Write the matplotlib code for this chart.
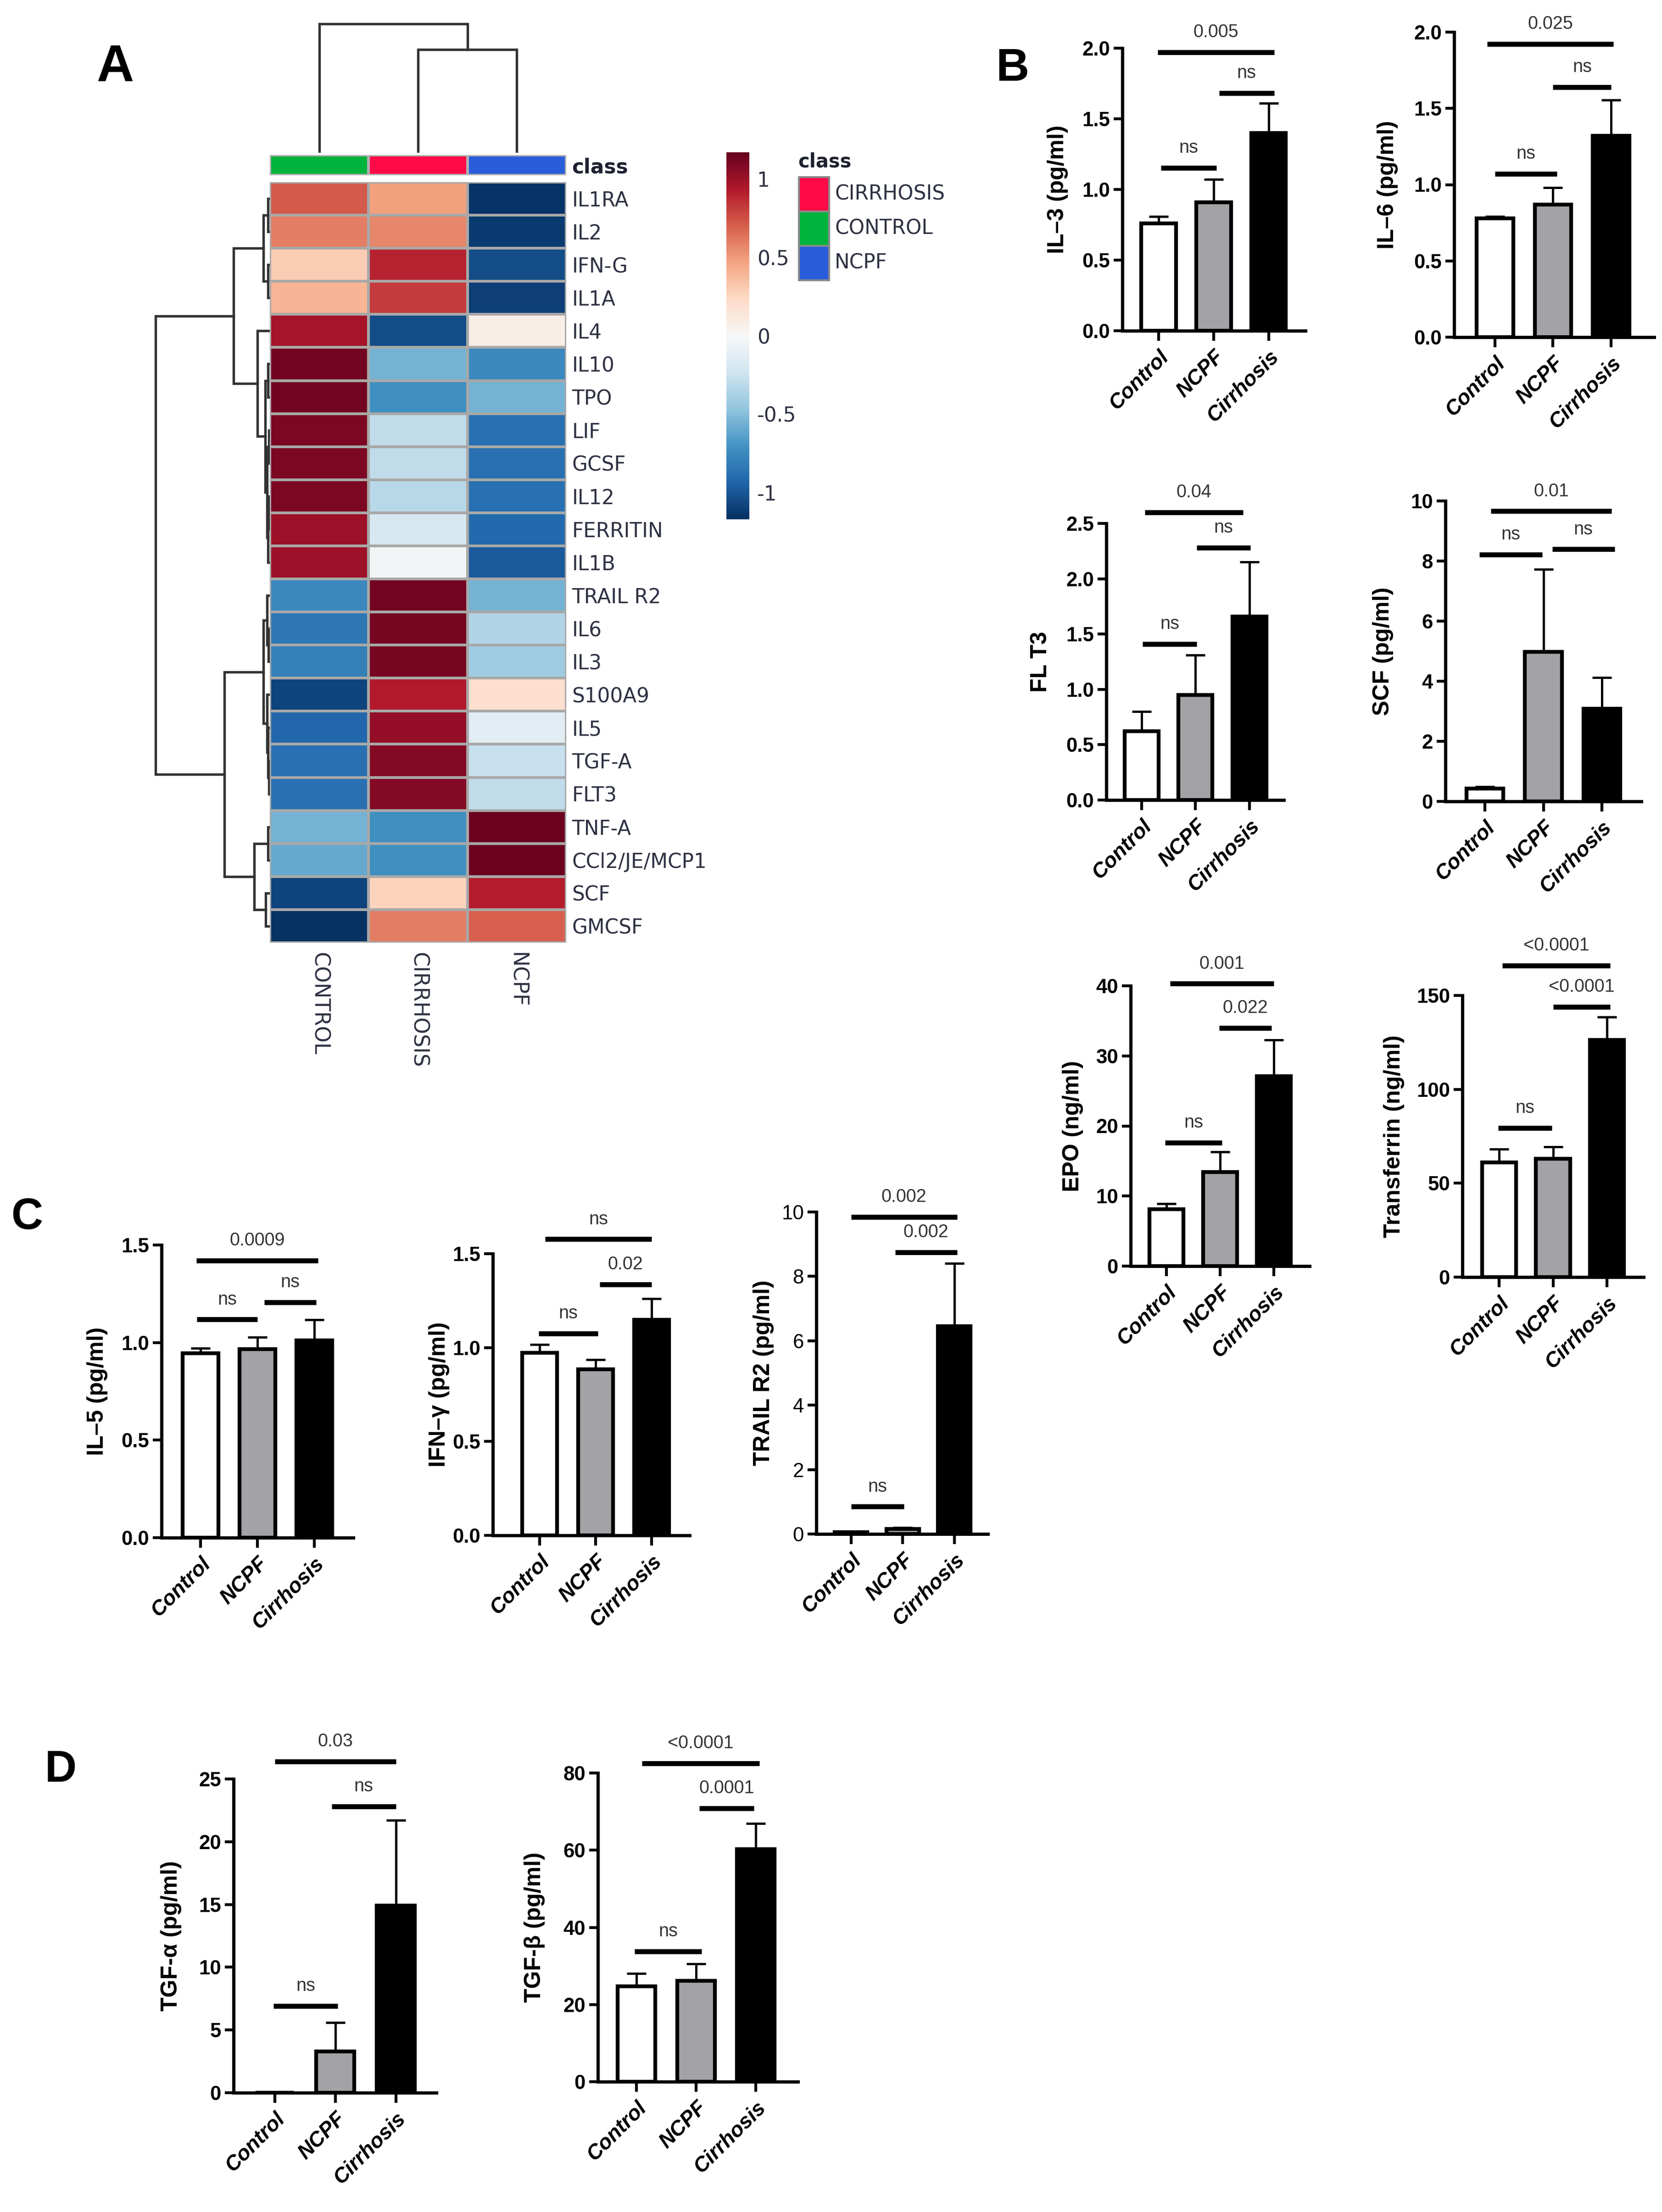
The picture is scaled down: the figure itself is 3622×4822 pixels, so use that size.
import matplotlib
matplotlib.use('Agg')
import matplotlib.pyplot as plt
import numpy as np
from matplotlib.colors import Normalize, ListedColormap
from matplotlib.colorbar import ColorbarBase
from matplotlib.patches import Rectangle
from matplotlib.ticker import FormatStrFormatter

plt.rcParams['font.family'] = ['Liberation Sans', 'DejaVu Sans']

# ---------------- heatmap data (panel A) ----------------
hm_rows = ['IL1RA', 'IL2', 'IFN-G', 'IL1A', 'IL4', 'IL10', 'TPO', 'LIF', 'GCSF', 'IL12',
           'FERRITIN', 'IL1B', 'TRAIL R2', 'IL6', 'IL3', 'S100A9', 'IL5', 'TGF-A', 'FLT3',
           'TNF-A', 'CCl2/JE/MCP1', 'SCF', 'GMCSF']
hm_cols = ['CONTROL', 'CIRRHOSIS', 'NCPF']
hm_control = [0.72, 0.60, 0.30, 0.40, 0.97, 1.13, 1.13, 1.10, 1.10, 1.10, 1.00, 1.00,
              -0.75, -0.85, -0.80, -1.08, -0.93, -0.88, -0.88, -0.55, -0.60, -1.08, -1.16]
hm_cirrhosis = [0.48, 0.57, 0.90, 0.82, -1.05, -0.55, -0.72, -0.30, -0.30, -0.32, -0.20, -0.03,
                1.13, 1.12, 1.12, 0.93, 1.03, 1.07, 1.07, -0.72, -0.72, 0.27, 0.60]
hm_ncpf = [-1.15, -1.12, -1.05, -1.10, 0.08, -0.75, -0.55, -0.88, -0.88, -0.88, -0.92, -0.98,
           -0.55, -0.35, -0.42, 0.20, -0.13, -0.27, -0.30, 1.15, 1.15, 0.92, 0.70]
class_colors = ['#00b33c', '#ff0a47', '#2a5ddb']   # CONTROL, CIRRHOSIS, NCPF
legend_labels = ['CIRRHOSIS', 'CONTROL', 'NCPF']
legend_colors = ['#ff0a47', '#00b33c', '#2a5ddb']

# dendrograms: (left, right, height) ; leaves are row / column indices
row_tree = ((((0, 1, 4), (2, 3, 4), 14),
             (4, ((5, 6, 4), ((7, 8, 2), ((9, 10, 2), 11, 4), 6), 10), 27), 79),
            (((12, (13, 14, 3), 6), (15, (16, (17, 18, 2), 4), 6), 14),
             ((19, 20, 4), (21, 22, 9), 34), 99), 249)
col_tree = (0, (1, 2, 225), 281)

# ---------------- bar chart data ----------------
groups = ['Control', 'NCPF', 'Cirrhosis']
bar_colors = ['white', '#a3a3a7', 'black']

il3_mean = [0.76, 0.91, 1.40]
il3_err = [0.05, 0.16, 0.21]
il6_mean = [0.78, 0.87, 1.32]
il6_err = [0.012, 0.11, 0.235]
flt3_mean = [0.62, 0.95, 1.66]
flt3_err = [0.18, 0.36, 0.49]
scf_mean = [0.42, 4.97, 3.09]
scf_err = [0.07, 2.76, 1.03]
epo_mean = [8.1, 13.4, 27.1]
epo_err = [0.8, 2.9, 5.2]
trf_mean = [61.1, 63.0, 126.3]
trf_err = [7.0, 6.4, 12.3]
il5_mean = [0.944, 0.967, 1.010]
il5_err = [0.028, 0.060, 0.106]
ifng_mean = [0.973, 0.884, 1.147]
ifng_err = [0.044, 0.051, 0.113]
trail_mean = [0.06, 0.15, 6.45]
trail_err = [0.0, 0.05, 1.96]
tgfa_mean = [0.0, 3.28, 14.9]
tgfa_err = [0.0, 2.32, 6.8]
tgfb_mean = [24.7, 26.2, 60.3]
tgfb_err = [3.3, 4.3, 6.6]

# significance bars: (x from, x to, height, label)
il3_sig = [(-0.02, 2.10, 1.97, '0.005'), (1.10, 2.10, 1.683, 'ns'), (0.04, 1.05, 1.154, 'ns')]
il6_sig = [(-0.13, 2.04, 1.923, '0.025'), (1.0, 2.0, 1.64, 'ns'), (0.0, 1.07, 1.07, 'ns')]
flt3_sig = [(0.06, 1.88, 2.60, '0.04'), (1.02, 2.02, 2.28, 'ns'), (0.02, 1.02, 1.41, 'ns')]
scf_sig = [(0.10, 2.17, 9.66, '0.01'), (-0.10, 0.98, 8.22, 'ns'), (1.15, 2.22, 8.39, 'ns')]
epo_sig = [(0.07, 2.0, 40.3, '0.001'), (0.98, 1.95, 34.0, '0.022'), (-0.02, 1.03, 17.6, 'ns')]
trf_sig = [(0.06, 2.06, 166.0, '<0.0001'), (1.0, 2.06, 144.0, '<0.0001'), (-0.02, 0.98, 79.4, 'ns')]
il5_sig = [(-0.07, 2.07, 1.421, '0.0009'), (-0.06, 1.0, 1.118, 'ns'), (1.12, 2.04, 1.207, 'ns')]
ifng_sig = [(0.10, 2.0, 1.577, 'ns'), (1.07, 2.0, 1.336, '0.02'), (-0.02, 1.04, 1.075, 'ns')]
trail_sig = [(0.0, 2.05, 9.85, '0.002'), (0.85, 2.05, 8.75, '0.002'), (0.0, 1.02, 0.85, 'ns')]
tgfa_sig = [(0.0, 2.0, 26.4, '0.03'), (0.94, 2.0, 22.8, 'ns'), (-0.02, 1.04, 6.9, 'ns')]
tgfb_sig = [(0.09, 2.06, 82.5, '<0.0001'), (1.05, 1.97, 70.9, '0.0001'), (-0.03, 1.09, 33.8, 'ns')]

# ---------------- figure ----------------
W, H = 3622, 4822
fig = plt.figure(figsize=(W / 300, H / 300), dpi=300)


def px_axes(l, t, r, b):
    return fig.add_axes([l / W, 1 - b / H, (r - l) / W, (b - t) / H])


ov = fig.add_axes([0, 0, 1, 1], zorder=-5)
ov.set_xlim(0, W)
ov.set_ylim(H, 0)
ov.axis('off')

# panel letters
for letter, (lx, ly), fs in [('A', (251, 148), 27), ('B', (2206, 150), 24),
                             ('C', (59, 2654), 23), ('D', (132, 3859), 23)]:
    ov.text(lx, ly, letter, fontsize=fs, fontweight='bold', ha='center', va='center')

hm_font = dict(family='DejaVu Sans', fontsize=10.5, color='#2d3142')

# heatmap
z = np.column_stack([hm_control, hm_cirrhosis, hm_ncpf])
vlim = 1.17
hm = px_axes(588, 397, 1234, 2055)
hm.pcolormesh(z, cmap='RdBu_r', vmin=-vlim, vmax=vlim, edgecolors='#a8a8a8', linewidth=1.0)
hm.set_xlim(0, 3)
hm.set_ylim(len(hm_rows), 0)
hm.yaxis.tick_right()
hm.set_yticks(np.arange(len(hm_rows)) + 0.5)
hm.set_yticklabels(hm_rows, **hm_font)
hm.set_xticks(np.arange(3) + 0.5)
hm.set_xticklabels(hm_cols, rotation=270, va='top', ha='center',
                   family='DejaVu Sans', fontsize=11, color='#2d3142')
hm.tick_params(length=0, pad=3)
hm.tick_params(axis='x', pad=5)
for s in hm.spines.values():
    s.set_visible(False)

# class annotation bar
cb = px_axes(588, 338, 1234, 382)
cb.pcolormesh(np.array([[0, 1, 2]]), cmap=ListedColormap(class_colors), vmin=0, vmax=2,
              edgecolors='#b0b0b0', linewidth=1.0)
cb.set_xlim(0, 3)
cb.set_ylim(0, 1)
cb.set_xticks([])
cb.yaxis.tick_right()
cb.set_yticks([0.5])
cb.set_yticklabels(['class'], family='DejaVu Sans', fontsize=10.5, fontweight='bold', color='#1e2230')
cb.tick_params(length=0, pad=3)
for s in cb.spines.values():
    s.set_visible(False)


def draw_tree(ax, node, orient):
    if isinstance(node, int):
        return node + 0.5, 0.0
    a, b, h = node
    pa, ha = draw_tree(ax, a, orient)
    pb, hb = draw_tree(ax, b, orient)
    if orient == 'top':
        ax.plot([pa, pa, pb, pb], [ha, h, h, hb], color='#333333', lw=1.3, solid_joinstyle='miter')
    else:
        ax.plot([-ha, -h, -h, -hb], [pa, pa, pb, pb], color='#333333', lw=1.3, solid_joinstyle='miter')
    return (pa + pb) / 2, h


td = px_axes(588, 30, 1234, 333)
draw_tree(td, col_tree, 'top')
td.set_xlim(0, 3)
td.set_ylim(0, 303)
td.axis('off')

ld = px_axes(300, 397, 588, 2055)
draw_tree(ld, row_tree, 'left')
ld.set_xlim(-288, 0)
ld.set_ylim(len(hm_rows), 0)
ld.axis('off')

# colorbar
cax = px_axes(1583, 332, 1633, 1132)
cbar = ColorbarBase(cax, cmap=plt.get_cmap('RdBu_r'), norm=Normalize(-vlim, vlim))
cbar.outline.set_visible(False)
cbar.set_ticks([-1, -0.5, 0, 0.5, 1])
cbar.set_ticklabels(['-1', '-0.5', '0', '0.5', '1'])
cax.tick_params(length=0, pad=4)
for t in cax.get_yticklabels():
    t.set_fontfamily('DejaVu Sans')
    t.set_fontsize(10.5)
    t.set_color('#2d3142')

# class legend
ov.text(1739, 352, 'class', family='DejaVu Sans', fontsize=10, fontweight='bold',
        color='#1e2230', ha='left', va='center')
for i, (lab, col) in enumerate(zip(legend_labels, legend_colors)):
    top = 386 + i * 75
    ov.add_patch(Rectangle((1741, top), 66, 75, facecolor=col, edgecolor='#8a8a8a', lw=1.0))
    ov.text(1819, top + 37, lab, ha='left', va='center', **hm_font)


# ---------------- bar charts ----------------
def bar_panel(box, means, errs, ymax, ystep, fmt, ylabel, label_off, xlim, sigs, bold=True):
    l, t, r, b = box
    ax = px_axes(l, t, r, b)
    x = np.arange(3)
    ax.bar(x, means, width=0.63, color=bar_colors, edgecolor='black', linewidth=2.0, zorder=3)
    for xi, m, e in zip(x, means, errs):
        if e > 0:
            ax.errorbar(xi, m, yerr=[[0], [e]], fmt='none', ecolor='black', elinewidth=1.2,
                        capsize=5, capthick=1.2, zorder=2)
    ax.set_xlim(*xlim)
    ax.set_ylim(0, ymax)
    ax.set_yticks(np.arange(0, ymax + ystep / 2, ystep))
    ax.yaxis.set_major_formatter(FormatStrFormatter(fmt))
    ax.set_xticks(x)
    ax.set_xticklabels(groups, rotation=45, ha='right', va='top', rotation_mode='anchor',
                       fontsize=11, fontweight='bold', fontstyle='italic')
    for s in ['top', 'right']:
        ax.spines[s].set_visible(False)
    for s in ['left', 'bottom']:
        ax.spines[s].set_linewidth(1.7)
    ax.tick_params(axis='x', direction='out', length=5.3, width=1.5, pad=3)
    ax.tick_params(axis='y', direction='out', length=4.5, width=1.5, pad=2, labelsize=10.5)
    for tl in ax.get_yticklabels():
        tl.set_fontweight('bold' if bold else 'normal')
    ax.set_ylabel(ylabel, fontsize=12, fontweight='bold')
    ax.yaxis.set_label_coords(-label_off / (r - l), 0.5)
    for x1, x2, yv, lab in sigs:
        ax.plot([x1, x2], [yv, yv], color='black', lw=2.6, clip_on=False, solid_capstyle='butt')
        ax.annotate(lab, xy=((x1 + x2) / 2, yv), xytext=(0, 10.5), textcoords='offset points',
                    ha='center', va='center', fontsize=9.5, color='#333333', annotation_clip=False)
    return ax


bar_panel((2446, 105, 2845, 721), il3_mean, il3_err, 2.0, 0.5, '%.1f', 'IL\u20133 (pg/ml)', 118,
          (-0.66, 2.67), il3_sig)
bar_panel((3169, 70, 3605, 735), il6_mean, il6_err, 2.0, 0.5, '%.1f', 'IL\u20136 (pg/ml)', 122,
          (-0.70, 2.74), il6_sig)
bar_panel((2411, 1141, 2798, 1744), flt3_mean, flt3_err, 2.5, 0.5, '%.1f', 'FL T3', 120,
          (-0.655, 2.64), flt3_sig)
bar_panel((3150, 1092, 3577, 1747), scf_mean, scf_err, 10, 2, '%d', 'SCF (pg/ml)', 113,
          (-0.68, 2.68), scf_sig)
bar_panel((2464, 2149, 2854, 2760), epo_mean, epo_err, 40, 10, '%d', 'EPO (ng/ml)', 103,
          (-0.66, 2.66), epo_sig)
bar_panel((3187, 2170, 3582, 2784), trf_mean, trf_err, 150, 50, '%d', 'Transferrin (ng/ml)', 126,
          (-0.68, 2.68), trf_sig)
bar_panel((352, 2714, 770, 3352), il5_mean, il5_err, 1.5, 0.5, '%.1f', 'IL\u20135 (pg/ml)', 117,
          (-0.685, 2.69), il5_sig)
bar_panel((1074, 2733, 1503, 3347), ifng_mean, ifng_err, 1.5, 0.5, '%.1f', 'IFN\u2013\u03b3 (pg/ml)', 94,
          (-0.836, 2.68), ifng_sig)
bar_panel((1779, 2642, 2153, 3344), trail_mean, trail_err, 10, 2, '%d', 'TRAIL R2 (pg/ml)', 92,
          (-0.675, 2.65), trail_sig, bold=False)
bar_panel((509, 3878, 951, 4562), tgfa_mean, tgfa_err, 25, 5, '%d', 'TGF-\u03b1 (pg/ml)', 113,
          (-0.68, 2.67), tgfa_sig)
bar_panel((1303, 3865, 1739, 4538), tgfb_mean, tgfb_err, 80, 20, '%d', 'TGF-\u03b2 (pg/ml)', 115,
          (-0.65, 2.71), tgfb_sig)

fig.savefig('out.png', dpi=300, facecolor='white')
